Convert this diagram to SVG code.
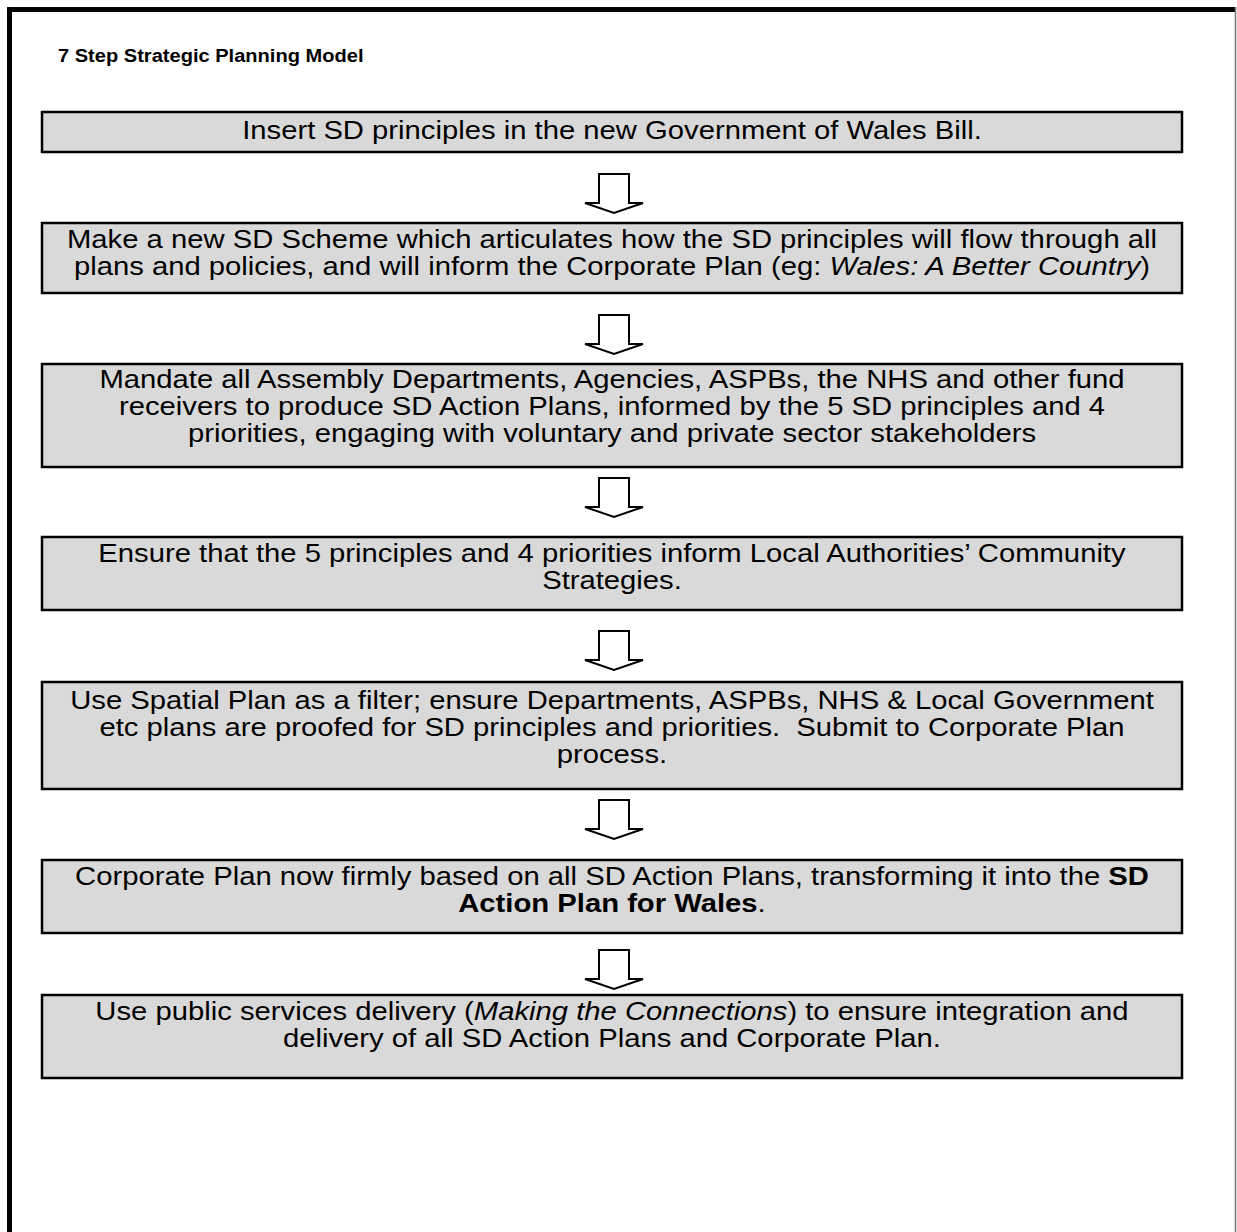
<svg xmlns="http://www.w3.org/2000/svg" width="1237" height="1232" viewBox="0 0 1237 1232">
<style>
.box{fill:#d9d9d9;stroke:#000;stroke-width:2.5}
.t{font-family:"Liberation Sans",Arial,sans-serif;font-size:25px;fill:#000;text-anchor:middle}
.arr{fill:#fff;stroke:#000;stroke-width:2;stroke-linejoin:miter}
</style>
<defs>
<path id="ar" class="arr" d="M-15,0 H15 V29 H29 L0,39 L-29,29 H-15 Z"/>
</defs>
<rect width="1237" height="1232" fill="#fff"/>
<g id="frame">
<line x1="9.5" y1="7" x2="9.5" y2="1232" stroke="#000" stroke-width="5"/>
<line x1="7" y1="9.5" x2="1236" y2="9.5" stroke="#000" stroke-width="5"/>
<line x1="1235.5" y1="7" x2="1235.5" y2="1232" stroke="#777" stroke-width="1.5"/>
</g>
<text id="title" x="58" y="62" transform="matrix(1.057 0 0 1 -3.306 0)" style="font-family:'Liberation Sans',Arial,sans-serif;font-size:19px;font-weight:bold">7 Step Strategic Planning Model</text>
<g id="connectors">
<use href="#ar" x="614" y="174"/>
<use href="#ar" x="614" y="315"/>
<use href="#ar" x="614" y="478"/>
<use href="#ar" x="614" y="631"/>
<use href="#ar" x="614" y="800"/>
<use href="#ar" x="614" y="950"/>
</g>
<g id="step1"><rect class="box" x="42" y="112" width="1140" height="40"/>
<text class="t" x="612" y="139" transform="matrix(1.17 0 0 1 -104.04 0)">Insert SD principles in the new Government of Wales Bill.</text></g>
<g id="step2"><rect class="box" x="42" y="223" width="1140" height="70"/>
<text class="t" x="612" y="248" transform="matrix(1.17 0 0 1 -104.04 0)">Make a new SD Scheme which articulates how the SD principles will flow through all</text>
<text class="t" x="612" y="275" transform="matrix(1.17 0 0 1 -104.04 0)">plans and policies, and will inform the Corporate Plan (eg: <tspan font-style="italic">Wales: A Better Country</tspan>)</text></g>
<g id="step3"><rect class="box" x="42" y="364" width="1140" height="103"/>
<text class="t" x="612" y="388" transform="matrix(1.17 0 0 1 -104.04 0)">Mandate all Assembly Departments, Agencies, ASPBs, the NHS and other fund</text>
<text class="t" x="612" y="415" transform="matrix(1.17 0 0 1 -104.04 0)">receivers to produce SD Action Plans, informed by the 5 SD principles and 4</text>
<text class="t" x="612" y="442" transform="matrix(1.17 0 0 1 -104.04 0)">priorities, engaging with voluntary and private sector stakeholders</text></g>
<g id="step4"><rect class="box" x="42" y="537" width="1140" height="73"/>
<text class="t" x="612" y="562" transform="matrix(1.17 0 0 1 -104.04 0)">Ensure that the 5 principles and 4 priorities inform Local Authorities’ Community</text>
<text class="t" x="612" y="589" transform="matrix(1.17 0 0 1 -104.04 0)">Strategies.</text></g>
<g id="step5"><rect class="box" x="42" y="682" width="1140" height="107"/>
<text class="t" x="612" y="709" transform="matrix(1.17 0 0 1 -104.04 0)">Use Spatial Plan as a filter; ensure Departments, ASPBs, NHS &amp; Local Government</text>
<text class="t" x="612" y="736" transform="matrix(1.17 0 0 1 -104.04 0)">etc plans are proofed for SD principles and priorities.&#160; Submit to Corporate Plan</text>
<text class="t" x="612" y="763" transform="matrix(1.17 0 0 1 -104.04 0)">process.</text></g>
<g id="step6"><rect class="box" x="42" y="860" width="1140" height="73"/>
<text class="t" x="612" y="885" transform="matrix(1.17 0 0 1 -104.04 0)">Corporate Plan now firmly based on all SD Action Plans, transforming it into the <tspan font-weight="bold">SD</tspan></text>
<text class="t" x="612" y="912" transform="matrix(1.17 0 0 1 -104.04 0)"><tspan font-weight="bold">Action Plan for Wales</tspan>.</text></g>
<g id="step7"><rect class="box" x="42" y="995" width="1140" height="83"/>
<text class="t" x="612" y="1020" transform="matrix(1.17 0 0 1 -104.04 0)">Use public services delivery (<tspan font-style="italic">Making the Connections</tspan>) to ensure integration and</text>
<text class="t" x="612" y="1047" transform="matrix(1.17 0 0 1 -104.04 0)">delivery of all SD Action Plans and Corporate Plan.</text></g>
</svg>
